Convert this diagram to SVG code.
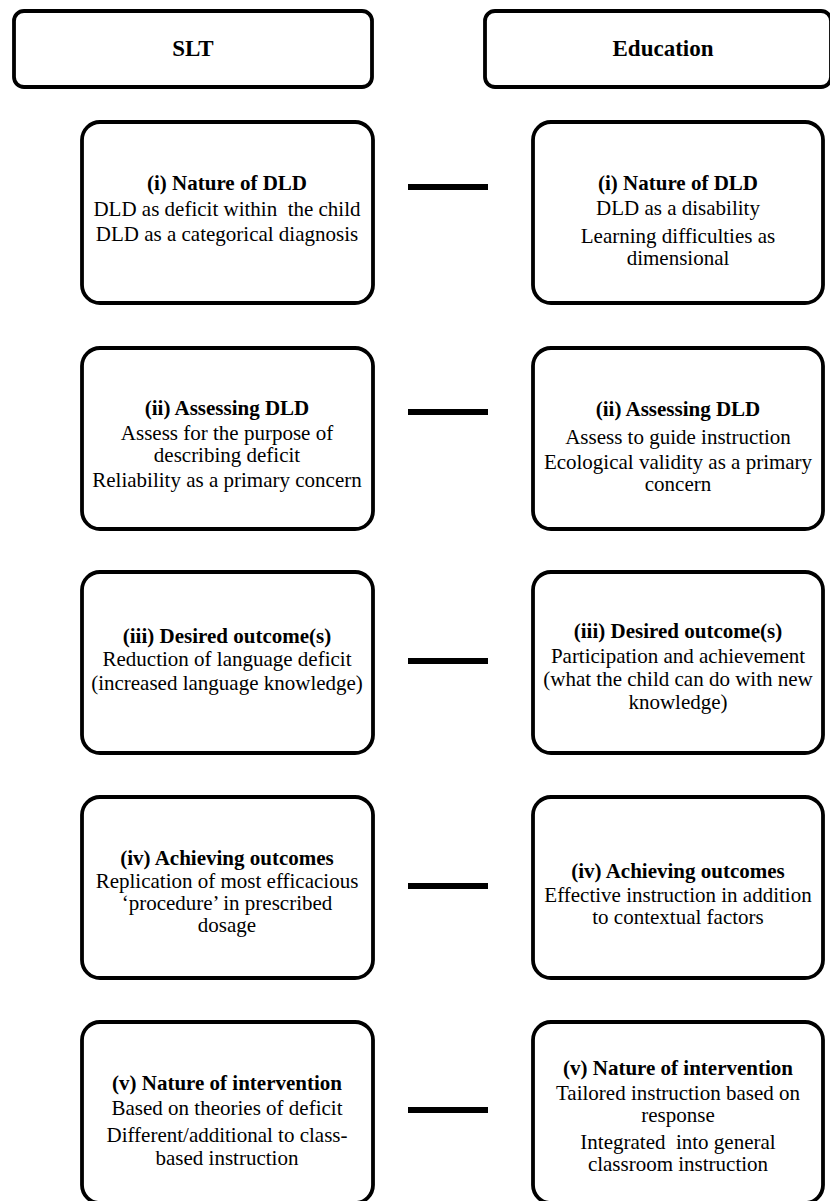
<svg xmlns="http://www.w3.org/2000/svg" width="830" height="1201" viewBox="0 0 830 1201">
<style>
.box{fill:#fff;stroke:#000;stroke-width:3.8}
.t{font-family:"Liberation Serif","Times New Roman",serif;font-weight:bold;font-size:21px;text-anchor:middle;fill:#000}
.h{font-family:"Liberation Serif","Times New Roman",serif;font-weight:bold;font-size:23px;text-anchor:middle;fill:#000}
.b{font-family:"Liberation Serif","Times New Roman",serif;font-size:21px;text-anchor:middle;fill:#000}
.c{stroke:#000;stroke-width:6}
</style>
<rect width="830" height="1201" fill="#fff"/>
<g id="hdr-slt"><rect class="box" x="14" y="11" width="358" height="76" rx="10"/><text class="h" x="193" y="56">SLT</text></g>
<g id="hdr-edu"><rect class="box" x="485" y="11" width="346" height="76" rx="10"/><text class="h" x="663" y="56">Education</text></g>

<g id="slt-1"><rect class="box" x="82" y="122" width="291" height="181" rx="18"/>
<text class="t" x="227" y="190">(i) Nature of DLD</text>
<text class="b" x="227" y="216" xml:space="preserve">DLD as deficit within  the child</text>
<text class="b" x="227" y="241">DLD as a categorical diagnosis</text></g>
<g id="edu-1"><rect class="box" x="533" y="122" width="290" height="181" rx="18"/>
<text class="t" x="678" y="190">(i) Nature of DLD</text>
<text class="b" x="678" y="215">DLD as a disability</text>
<text class="b" x="678" y="242.5">Learning difficulties as</text>
<text class="b" x="678" y="264.5">dimensional</text></g>

<g id="slt-2"><rect class="box" x="82" y="348" width="291" height="181" rx="18"/>
<text class="t" x="227" y="414.5">(ii) Assessing DLD</text>
<text class="b" x="227" y="439.5">Assess for the purpose of</text>
<text class="b" x="227" y="461.5">describing deficit</text>
<text class="b" x="227" y="487">Reliability as a primary concern</text></g>
<g id="edu-2"><rect class="box" x="533" y="348" width="290" height="181" rx="18"/>
<text class="t" x="678" y="416">(ii) Assessing DLD</text>
<text class="b" x="678" y="444">Assess to guide instruction</text>
<text class="b" x="678" y="468.5">Ecological validity as a primary</text>
<text class="b" x="678" y="490.5">concern</text></g>

<g id="slt-3"><rect class="box" x="82" y="572" width="291" height="181" rx="18"/>
<text class="t" x="227" y="643">(iii) Desired outcome(s)</text>
<text class="b" x="227" y="665.5">Reduction of language deficit</text>
<text class="b" x="227" y="689.5">(increased language knowledge)</text></g>
<g id="edu-3"><rect class="box" x="533" y="572" width="290" height="181" rx="18"/>
<text class="t" x="678" y="638">(iii) Desired outcome(s)</text>
<text class="b" x="678" y="662.5">Participation and achievement</text>
<text class="b" x="678" y="686">(what the child can do with new</text>
<text class="b" x="678" y="708.5">knowledge)</text></g>

<g id="slt-4"><rect class="box" x="82" y="797" width="291" height="181" rx="18"/>
<text class="t" x="227" y="864.5">(iv) Achieving outcomes</text>
<text class="b" x="227" y="888">Replication of most efficacious</text>
<text class="b" x="227" y="910">‘procedure’ in prescribed</text>
<text class="b" x="227" y="932">dosage</text></g>
<g id="edu-4"><rect class="box" x="533" y="797" width="290" height="181" rx="18"/>
<text class="t" x="678" y="878">(iv) Achieving outcomes</text>
<text class="b" x="678" y="901.5">Effective instruction in addition</text>
<text class="b" x="678" y="923.5">to contextual factors</text></g>

<g id="slt-5"><rect class="box" x="82" y="1022" width="291" height="181" rx="18"/>
<text class="t" x="227" y="1090">(v) Nature of intervention</text>
<text class="b" x="227" y="1115">Based on theories of deficit</text>
<text class="b" x="227" y="1141.5">Different/additional to class-</text>
<text class="b" x="227" y="1164.5">based instruction</text></g>
<g id="edu-5"><rect class="box" x="533" y="1022" width="290" height="181" rx="18"/>
<text class="t" x="678" y="1075">(v) Nature of intervention</text>
<text class="b" x="678" y="1099.5">Tailored instruction based on</text>
<text class="b" x="678" y="1122">response</text>
<text class="b" x="678" y="1148.5" xml:space="preserve">Integrated  into general</text>
<text class="b" x="678" y="1170.5">classroom instruction</text></g>

<g id="connectors">
<line class="c" x1="408" y1="187" x2="488" y2="187"/>
<line class="c" x1="408" y1="412" x2="488" y2="412"/>
<line class="c" x1="408" y1="661" x2="488" y2="661"/>
<line class="c" x1="408" y1="886" x2="488" y2="886"/>
<line class="c" x1="408" y1="1110" x2="488" y2="1110"/>
</g>
</svg>
